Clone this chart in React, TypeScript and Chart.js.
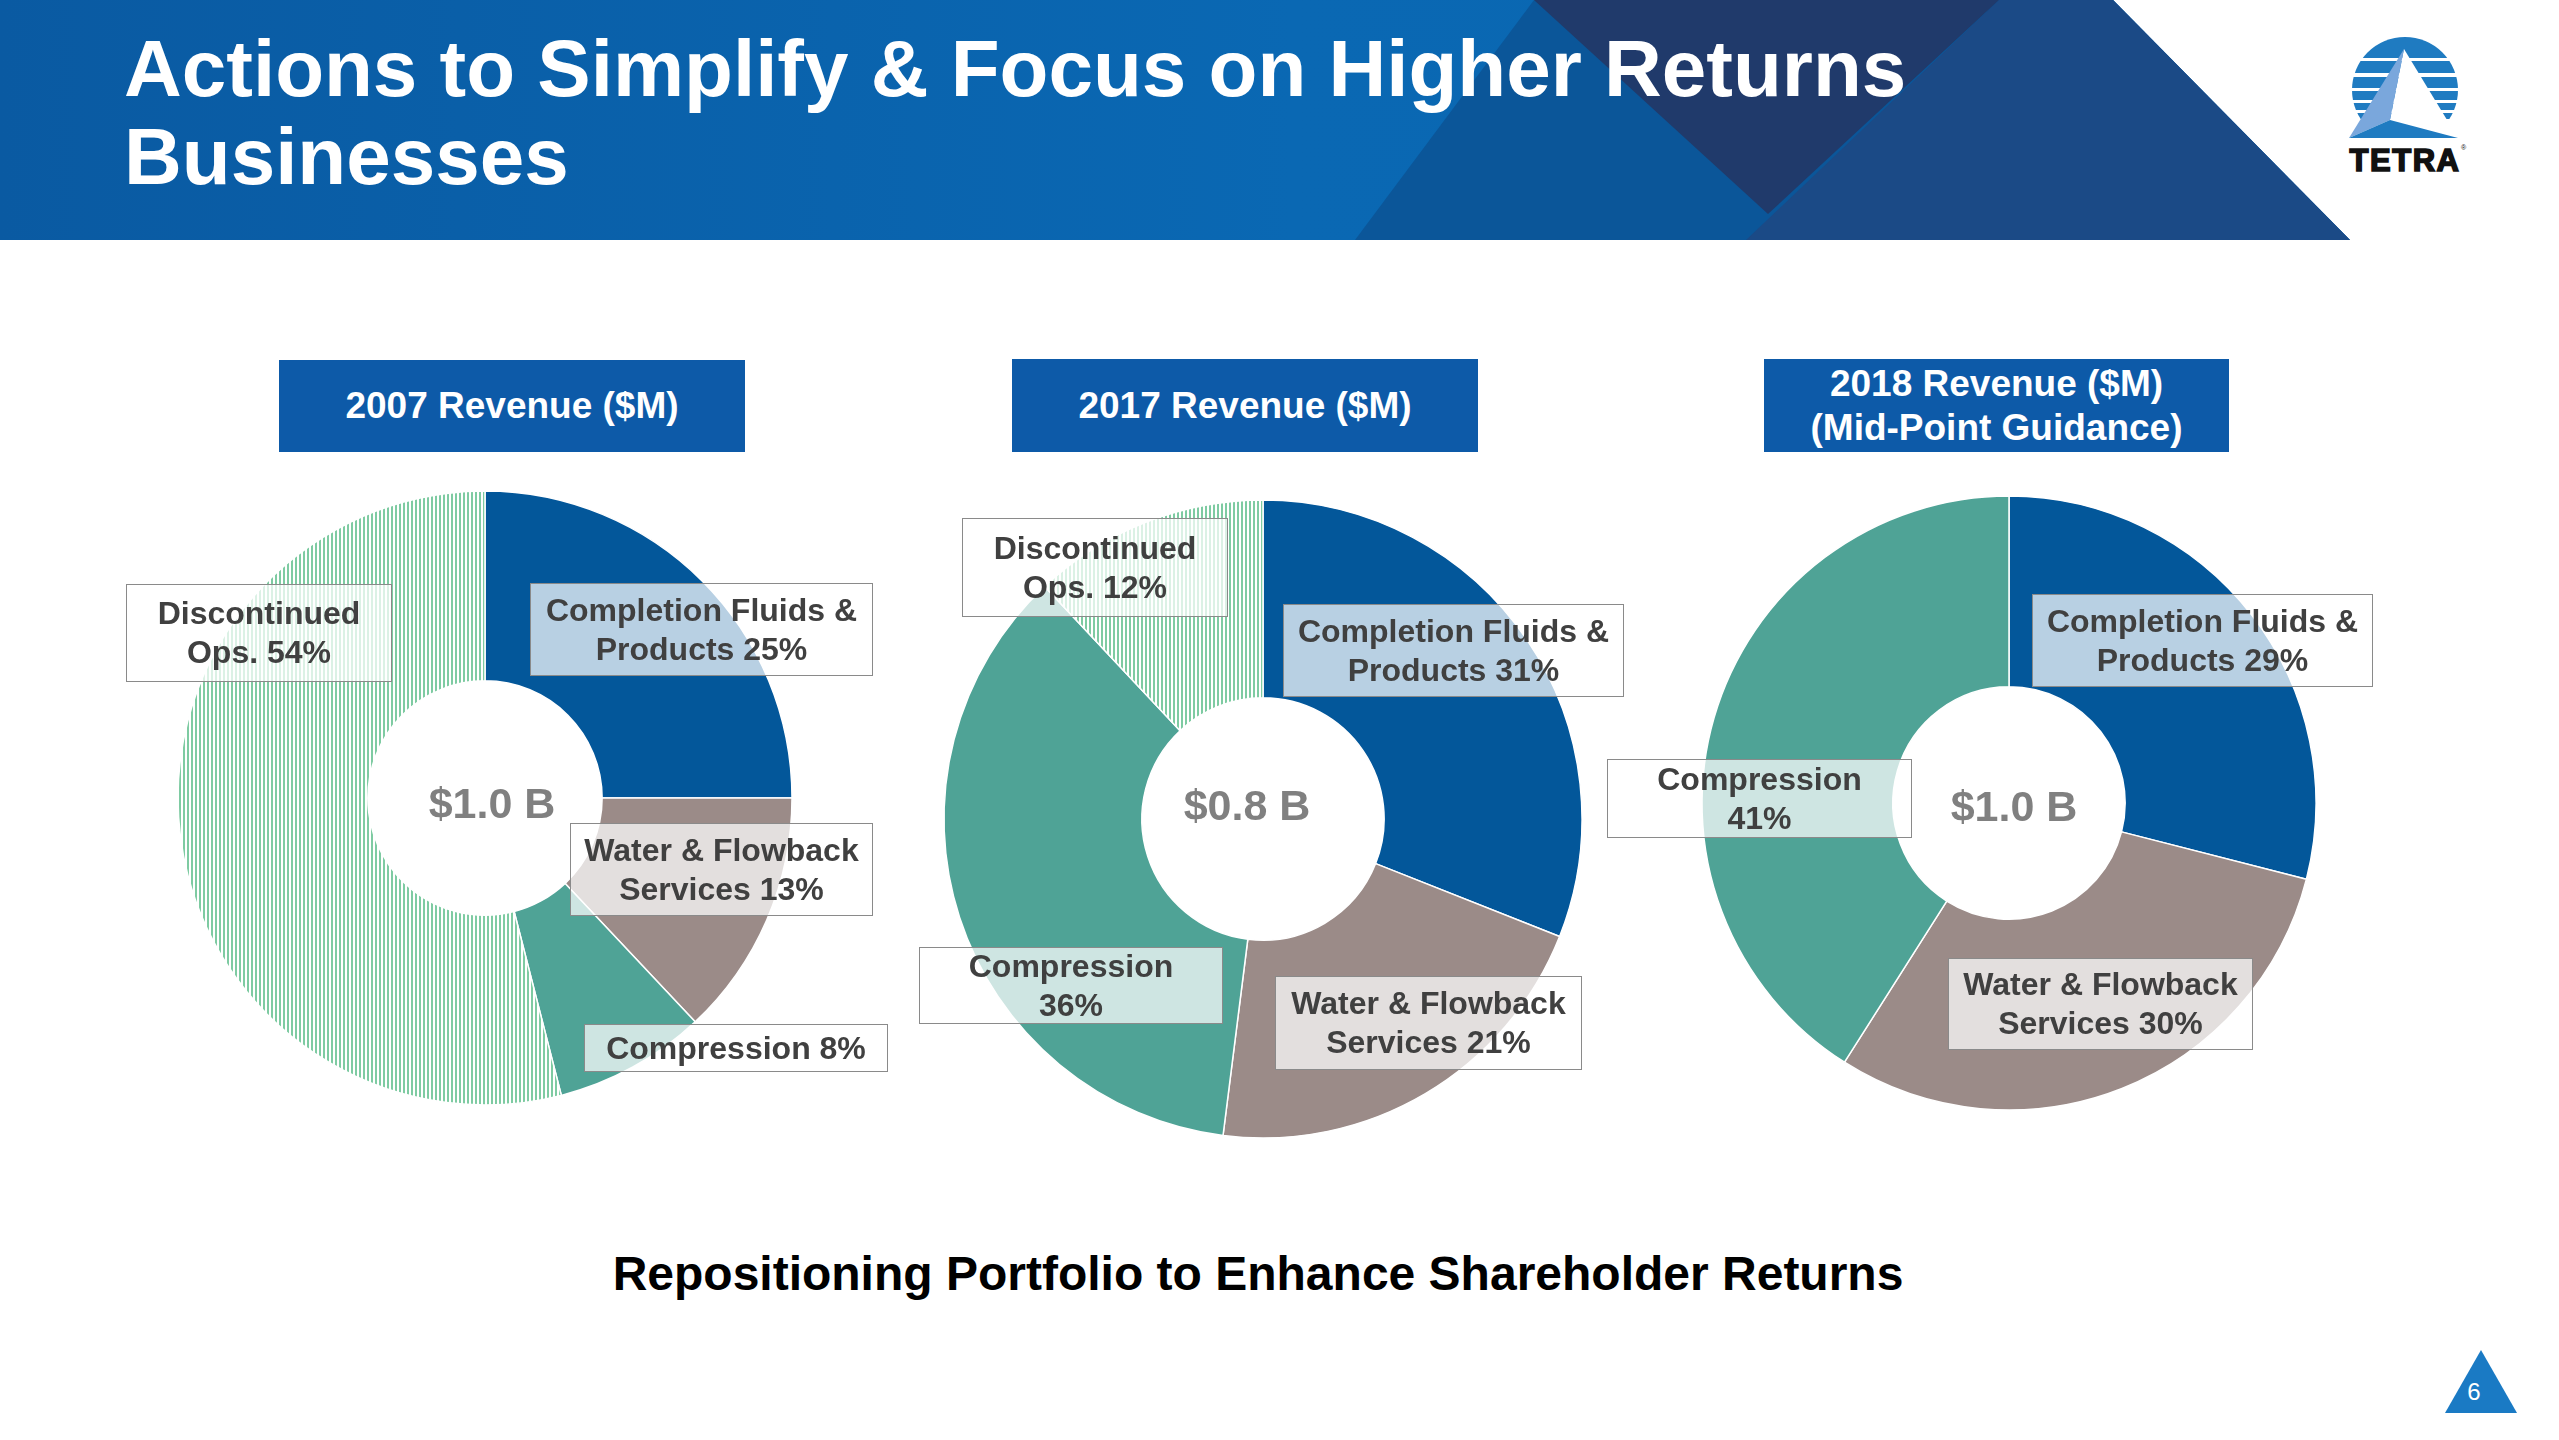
import React, { useEffect, useRef } from "react";
import { Chart, ArcElement, DoughnutController } from "chart.js";

Chart.register(ArcElement, DoughnutController);

// ---------- DATA ----------
const CATEGORIES_2007 = ["Completion Fluids & Products", "Water & Flowback Services", "Compression", "Discontinued Ops."];
const VALUES_2007 = [25, 13, 8, 54];
const CATEGORIES_2017 = ["Completion Fluids & Products", "Water & Flowback Services", "Compression", "Discontinued Ops."];
const VALUES_2017 = [31, 21, 36, 12];
const CATEGORIES_2018 = ["Completion Fluids & Products", "Water & Flowback Services", "Compression"];
const VALUES_2018 = [29, 30, 41];

const CHART_TITLES = [["2007 Revenue ($M)"], ["2017 Revenue ($M)"], ["2018 Revenue ($M)", "(Mid-Point Guidance)"]];
const CENTER_TOTALS = ["$1.0 B", "$0.8 B", "$1.0 B"];

const LABELS_2007 = [["Completion Fluids &", "Products 25%"], ["Water & Flowback", "Services 13%"], ["Compression 8%"], ["Discontinued", "Ops. 54%"]];
const LABELS_2017 = [["Completion Fluids &", "Products 31%"], ["Water & Flowback", "Services 21%"], ["Compression", "36%"], ["Discontinued", "Ops. 12%"]];
const LABELS_2018 = [["Completion Fluids &", "Products 29%"], ["Water & Flowback", "Services 30%"], ["Compression", "41%"]];

const PAGE_TITLE = ["Actions to Simplify & Focus on Higher Returns", "Businesses"];
const FOOTER = "Repositioning Portfolio to Enhance Shareholder Returns";
const PAGE_NUMBER = "6";

// ---------- LAYOUT / STYLE ----------
const FONT = '"Liberation Sans", Arial, sans-serif';
const SEG_COLORS = ["#03579a", "#9b8b88", "#4fa396"];
const HATCH_GREEN = "#7ecba2";

const DONUTS = [
  { cx: 485, cy: 798, r: 307, cut: 118 },
  { cx: 1263, cy: 819, r: 319, cut: 122 },
  { cx: 2009, cy: 803, r: 307, cut: 117 },
];
const TITLE_BOXES = [
  { x: 279, y: 360, w: 466, h: 92 },
  { x: 1012, y: 359, w: 466, h: 93 },
  { x: 1764, y: 359, w: 465, h: 93 },
];
const CENTER_POS = [
  { x: 492, y: 803 },
  { x: 1247, y: 805 },
  { x: 2014, y: 806 },
];
const LABEL_BOXES = [
  [
    { x: 530, y: 583, w: 343, h: 93 },
    { x: 570, y: 823, w: 303, h: 93 },
    { x: 584, y: 1024, w: 304, h: 48 },
    { x: 126, y: 584, w: 266, h: 98 },
  ],
  [
    { x: 1283, y: 604, w: 341, h: 93 },
    { x: 1275, y: 976, w: 307, h: 94 },
    { x: 919, y: 947, w: 304, h: 77 },
    { x: 962, y: 518, w: 266, h: 99 },
  ],
  [
    { x: 2032, y: 594, w: 341, h: 93 },
    { x: 1948, y: 958, w: 305, h: 92 },
    { x: 1607, y: 759, w: 305, h: 79 },
  ],
];

const CHART_SETS = [
  { cats: CATEGORIES_2007, values: VALUES_2007, labels: LABELS_2007 },
  { cats: CATEGORIES_2017, values: VALUES_2017, labels: LABELS_2017 },
  { cats: CATEGORIES_2018, values: VALUES_2018, labels: LABELS_2018 },
];

function makeHatch(): CanvasPattern | string {
  const c = document.createElement("canvas");
  c.width = 4;
  c.height = 4;
  const ctx = c.getContext("2d");
  if (!ctx) return HATCH_GREEN;
  ctx.fillStyle = "#ffffff";
  ctx.fillRect(0, 0, 4, 4);
  ctx.fillStyle = HATCH_GREEN;
  ctx.fillRect(0, 0, 2, 4);
  return ctx.createPattern(c, "repeat") || HATCH_GREEN;
}

function Donut({ idx }: { idx: number }) {
  const ref = useRef<HTMLCanvasElement | null>(null);
  const d = DONUTS[idx];
  const set = CHART_SETS[idx];
  const size = d.r * 2 + 6;
  useEffect(() => {
    if (!ref.current) return;
    const hatch = makeHatch();
    const colors = set.values.map((_, i) => (i < 3 ? SEG_COLORS[i] : hatch));
    const chart = new Chart(ref.current, {
      type: "doughnut",
      data: {
        labels: set.cats,
        datasets: [
          {
            data: set.values,
            backgroundColor: colors as any,
            borderColor: "#ffffff",
            borderWidth: 1.5,
            hoverOffset: 0,
          },
        ],
      },
      options: {
        responsive: false,
        animation: false,
        radius: d.r,
        cutout: d.cut,
        layout: { padding: 0 },
        plugins: { legend: { display: false }, tooltip: { enabled: false } },
        events: [],
      } as any,
    });
    return () => chart.destroy();
  }, [idx]);
  return (
    <canvas
      ref={ref}
      width={size}
      height={size}
      style={{ position: "absolute", left: d.cx - size / 2, top: d.cy - size / 2, width: size, height: size }}
    />
  );
}

function Header() {
  return (
    <svg width={2559} height={242} style={{ position: "absolute", left: 0, top: 0 }}>
      <defs>
        <linearGradient id="hb" x1="0" y1="0" x2="1" y2="0">
          <stop offset="0" stopColor="#0a5aa2" />
          <stop offset="0.55" stopColor="#0a68b3" />
          <stop offset="1" stopColor="#0a66b0" />
        </linearGradient>
      </defs>
      <polygon points="0,0 2113,0 2350,240 0,240" fill="url(#hb)" />
      <polygon points="1534,0 2113,0 2350,240 1355,240" fill="#0b5699" />
      <polygon points="1999,0 2113,0 2350,240 1746,240" fill="#1b4a86" />
      <polygon points="1534,0 1999,0 1768,214" fill="#203a6b" />
    </svg>
  );
}

function Logo() {
  const stripes = [
    [37, 58],
    [61, 73],
    [77, 88],
    [91, 100],
    [103, 110],
    [113, 119],
  ];
  return (
    <svg width={140} height={150} style={{ position: "absolute", left: 2340, top: 30 }} viewBox="2340 30 140 150">
      <defs>
        <clipPath id="lc">
          <circle cx={2405} cy={90} r={53} />
        </clipPath>
      </defs>
      <g clipPath="url(#lc)">
        {stripes.map((s, i) => (
          <rect key={i} x={2340} y={s[0]} width={140} height={s[1] - s[0]} fill="#1f7bc1" />
        ))}
      </g>
      <polygon points="2404,49 2390,120 2458,138" fill="#ffffff" />
      <polygon points="2404,49 2349,138 2390,120" fill="#7aa7dc" />
      <polygon points="2349,138 2390,120 2458,138" fill="#1f7bc1" />
      <text
        x={2405}
        y={171}
        textAnchor="middle"
        fontFamily={FONT}
        fontWeight={700}
        fontSize={31}
        fill="#111"
        stroke="#111"
        strokeWidth={1.6}
        letterSpacing={1.5}
      >
        TETRA
      </text>
      <text x={2461} y={150} fontFamily={FONT} fontSize={7} fill="#111">®</text>
    </svg>
  );
}

export default function App() {
  useEffect(() => {
    document.body.style.margin = "0";
  }, []);
  return (
    <div style={{ position: "absolute", left: 0, top: 0, width: 2559, height: 1440, background: "#fff", overflow: "hidden", fontFamily: FONT }}>
      <Header />
      <div
        style={{
          position: "absolute",
          left: 124,
          top: 25,
          color: "#fff",
          fontWeight: 700,
          fontSize: 80,
          lineHeight: "88px",
          whiteSpace: "nowrap",
        }}
      >
        {PAGE_TITLE.map((t, i) => (
          <div key={i}>{t}</div>
        ))}
      </div>
      <Logo />

      {DONUTS.map((_, i) => (
        <Donut key={i} idx={i} />
      ))}

      {TITLE_BOXES.map((b, i) => (
        <div
          key={"tb" + i}
          style={{
            position: "absolute",
            left: b.x,
            top: b.y,
            width: b.w,
            height: b.h,
            background: "#0d5aa8",
            color: "#fff",
            fontWeight: 700,
            fontSize: 37,
            lineHeight: "44px",
            display: "flex",
            flexDirection: "column",
            alignItems: "center",
            justifyContent: "center",
            textAlign: "center",
          }}
        >
          {CHART_TITLES[i].map((t, j) => (
            <div key={j}>{t}</div>
          ))}
        </div>
      ))}

      {CENTER_POS.map((p, i) => (
        <div
          key={"ct" + i}
          style={{
            position: "absolute",
            left: p.x,
            top: p.y,
            transform: "translate(-50%, -50%)",
            color: "#808080",
            fontWeight: 700,
            fontSize: 43,
            lineHeight: "43px",
            whiteSpace: "nowrap",
          }}
        >
          {CENTER_TOTALS[i]}
        </div>
      ))}

      {LABEL_BOXES.map((boxes, ci) =>
        boxes.map((b, li) => (
          <div
            key={"lb" + ci + "_" + li}
            style={{
              position: "absolute",
              left: b.x,
              top: b.y,
              width: b.w,
              height: b.h,
              boxSizing: "border-box",
              background: "rgba(255,255,255,0.72)",
              border: "1.5px solid #8a8a8a",
              color: "#404040",
              fontWeight: 700,
              fontSize: 32,
              lineHeight: "39px",
              display: "flex",
              flexDirection: "column",
              alignItems: "center",
              justifyContent: "center",
              textAlign: "center",
              whiteSpace: "nowrap",
            }}
          >
            {CHART_SETS[ci].labels[li].map((t, j) => (
              <div key={j}>{t}</div>
            ))}
          </div>
        ))
      )}

      <div
        style={{
          position: "absolute",
          left: 558,
          top: 1246,
          width: 1400,
          textAlign: "center",
          color: "#000",
          fontWeight: 700,
          fontSize: 48,
          lineHeight: "56px",
          whiteSpace: "nowrap",
        }}
      >
        {FOOTER}
      </div>

      <svg width={80} height={70} style={{ position: "absolute", left: 2441, top: 1347 }}>
        <polygon points="4,66 76,66 40,3" fill="#1a7ac4" />
        <text x={33} y={53} textAnchor="middle" fontFamily={FONT} fontSize={24} fill="#fff">
          {PAGE_NUMBER}
        </text>
      </svg>
    </div>
  );
}
